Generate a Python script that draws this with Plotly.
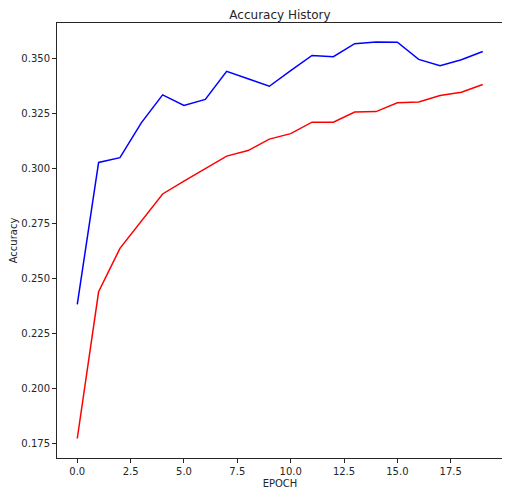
import plotly.graph_objects as go

epochs = list(range(20))
acc_blue = [0.2382, 0.3026, 0.3048, 0.3206, 0.3333, 0.3285, 0.3312, 0.3440, 0.3406, 0.3372,
            0.3443, 0.3512, 0.3506, 0.3565, 0.3573, 0.3572, 0.3494, 0.3465, 0.3492, 0.3530]
acc_red = [0.1773, 0.2439, 0.2636, 0.2760, 0.2883, 0.2941, 0.2997, 0.3055, 0.3080, 0.3132,
           0.3157, 0.3209, 0.3209, 0.3255, 0.3257, 0.3297, 0.3301, 0.3330, 0.3345, 0.3380]

fig = go.Figure()
fig.add_trace(go.Scatter(x=epochs, y=acc_blue, mode="lines", line=dict(color="blue", width=1.5), showlegend=False))
fig.add_trace(go.Scatter(x=epochs, y=acc_red, mode="lines", line=dict(color="red", width=1.5), showlegend=False))

axis_common = dict(
    showgrid=False, zeroline=False, showline=True, mirror=True, automargin=False,
    linecolor="#262626", linewidth=1, ticks="outside", ticklen=4, tickwidth=1,
    tickcolor="#262626", tickfont=dict(family="DejaVu Sans", size=10, color="#262626"),
)

fig.update_layout(
    width=502, height=488,
    margin=dict(l=49, r=7, t=15, b=38),
    paper_bgcolor="white", plot_bgcolor="white",
    font=dict(family="DejaVu Sans", color="#262626"),
    title=dict(text="Accuracy History", x=0.5, xref="paper", y=1, yref="paper",
               yanchor="bottom", pad=dict(b=4), automargin=False,
               font=dict(size=12, color="#262626")),
    xaxis=dict(range=[-0.95, 19.95], tick0=0, dtick=2.5, tickformat=".1f",
               title=dict(text="EPOCH", font=dict(size=10), standoff=3), **axis_common),
    yaxis=dict(range=[0.16845, 0.36591], tick0=0.175, dtick=0.025, tickformat=".3f",
               title=dict(text="Accuracy", font=dict(size=10), standoff=3), **axis_common),
)

fig.write_html("out.html")
